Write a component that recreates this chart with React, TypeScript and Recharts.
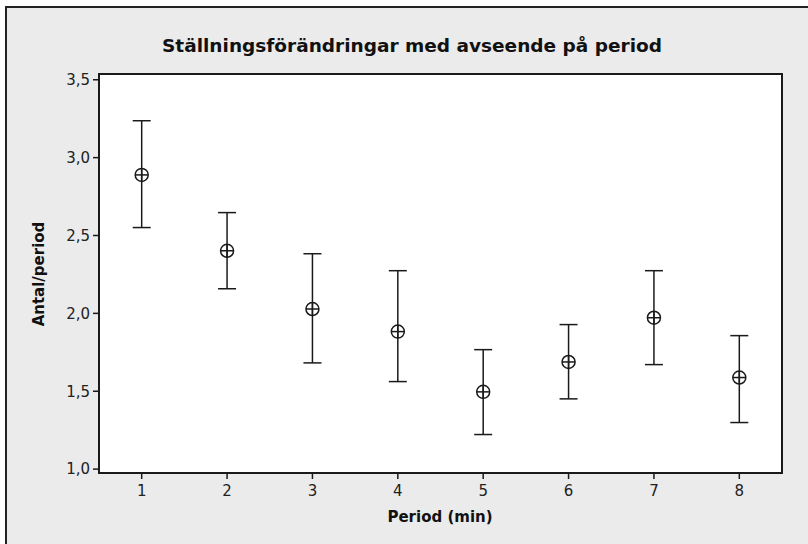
import React from 'react'
import {
  ComposedChart,
  Scatter,
  ErrorBar,
  XAxis,
  YAxis,
  CartesianGrid,
  ReferenceArea,
} from 'recharts'

// period (min) and the mean with its interval bounds
const periods = [1, 2, 3, 4, 5, 6, 7, 8]
const means = [2.889, 2.402, 2.028, 1.883, 1.496, 1.688, 1.972, 1.588]
const lower = [2.551, 2.158, 1.682, 1.562, 1.222, 1.451, 1.671, 1.299]
const upper = [3.237, 2.647, 2.383, 2.274, 1.767, 1.928, 2.274, 1.857]
const yTicks = [1.0, 1.5, 2.0, 2.5, 3.0, 3.5]

const X_DOMAIN = [0.5, 8.5]
const Y_DOMAIN = [0.975, 3.537]

const data = periods.map((p, i) => ({
  period: p,
  mean: means[i],
  ci: [means[i] - lower[i], upper[i] - means[i]],
}))

const INK = '#1a1a1a'
const FONT = '"DejaVu Sans", Verdana, sans-serif'

const fmt = (v: number) => v.toFixed(1).replace('.', ',')

function CircleCross(props: any) {
  const { cx, cy } = props
  const r = 6.5
  return (
    <g>
      <circle cx={cx} cy={cy} r={r} fill="none" stroke={INK} strokeWidth={1.5} />
      <line x1={cx - r} y1={cy} x2={cx + r} y2={cy} stroke={INK} strokeWidth={1.5} />
      <line x1={cx} y1={cy - r} x2={cx} y2={cy + r} stroke={INK} strokeWidth={1.5} />
    </g>
  )
}

export default function App() {
  return (
    <div
      style={{
        position: 'absolute',
        left: 0,
        top: 0,
        width: 808,
        height: 544,
        overflow: 'hidden',
        background: '#fff',
      }}
    >
      <div
        style={{
          position: 'absolute',
          left: 5,
          top: 6,
          width: 830,
          height: 560,
          border: '2px solid #222',
          background: '#ebebeb',
        }}
      />
      <div
        style={{
          position: 'absolute',
          left: 0,
          top: 37,
          width: 824,
          textAlign: 'center',
          fontFamily: FONT,
          fontWeight: 'bold',
          fontSize: 18.5,
          lineHeight: 1,
          color: '#111',
        }}
      >
        Ställningsförändringar med avseende på period
      </div>
      <div style={{ position: 'absolute', left: 0, top: 0 }}>
        <ComposedChart
          width={808}
          height={544}
          data={data}
          margin={{ top: 74, right: 26, bottom: 41, left: 39 }}
        >
          <CartesianGrid horizontal={false} vertical={false} fill="#fff" />
          <XAxis
            dataKey="period"
            type="number"
            domain={X_DOMAIN}
            ticks={periods}
            allowDataOverflow
            height={30}
            tickSize={6}
            tickMargin={6}
            axisLine={{ stroke: INK, strokeWidth: 2 }}
            tickLine={{ stroke: INK, strokeWidth: 1.5 }}
            tick={{ fill: '#222', fontSize: 15, fontFamily: FONT }}
          />
          <YAxis
            type="number"
            domain={Y_DOMAIN}
            ticks={yTicks}
            allowDataOverflow
            width={60}
            tickSize={6}
            tickMargin={3}
            tickFormatter={fmt}
            axisLine={{ stroke: INK, strokeWidth: 2 }}
            tickLine={{ stroke: INK, strokeWidth: 1.5 }}
            tick={{ fill: '#222', fontSize: 15, fontFamily: FONT }}
          />
          {/* frame round the plotting area */}
          <ReferenceArea
            x1={X_DOMAIN[0]}
            x2={X_DOMAIN[1]}
            y1={Y_DOMAIN[0]}
            y2={Y_DOMAIN[1]}
            fill="none"
            stroke={INK}
            strokeWidth={2}
            ifOverflow="visible"
          />
          <Scatter
            dataKey="mean"
            shape={CircleCross}
            isAnimationActive={false}
          >
            <ErrorBar
              dataKey="ci"
              direction="y"
              width={9}
              stroke={INK}
              strokeWidth={1.5}
              isAnimationActive={false}
            />
          </Scatter>
        </ComposedChart>
      </div>
      <div
        style={{
          position: 'absolute',
          left: 340,
          top: 510,
          width: 200,
          textAlign: 'center',
          fontFamily: FONT,
          fontWeight: 'bold',
          fontSize: 15,
          lineHeight: 1,
          color: '#111',
        }}
      >
        Period (min)
      </div>
      <div
        style={{
          position: 'absolute',
          left: 40 - 100,
          top: 274 - 8,
          width: 200,
          textAlign: 'center',
          fontFamily: FONT,
          fontWeight: 'bold',
          fontSize: 15,
          lineHeight: 1,
          color: '#111',
          transform: 'rotate(-90deg)',
          transformOrigin: '100px 8px',
        }}
      >
        Antal/period
      </div>
    </div>
  )
}
